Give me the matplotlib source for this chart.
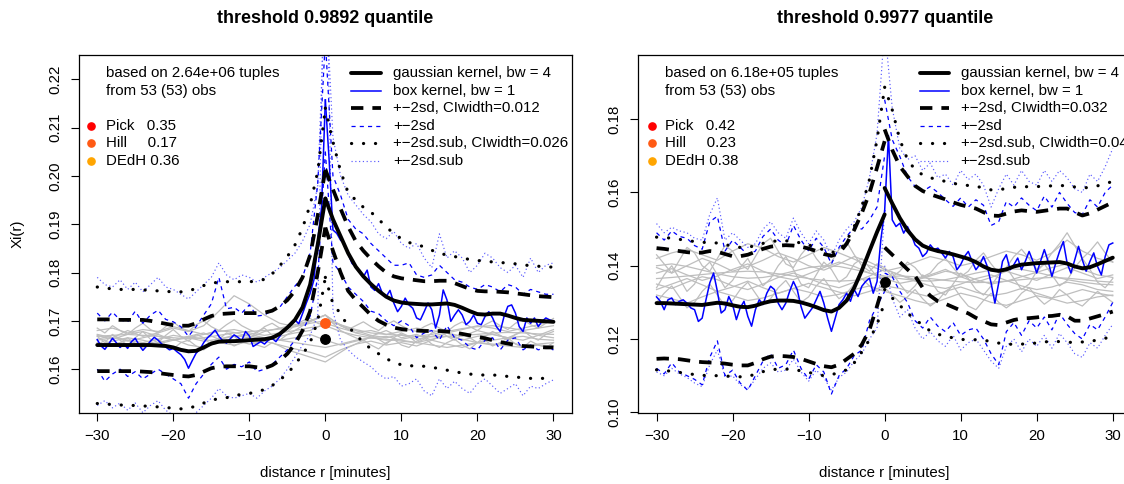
import numpy as np
import matplotlib
matplotlib.use("Agg")
import matplotlib.pyplot as plt
from matplotlib.lines import Line2D

plt.rcParams['font.family'] = ['Liberation Sans', 'DejaVu Sans']
plt.rcParams['font.size'] = 10.8
plt.rcParams['axes.unicode_minus'] = True

# ---------------- data : left panel (threshold 0.9892) ----------------
TITLE_L = "threshold 0.9892 quantile"
INFO_L = ["based on 2.64e+06 tuples", "from 53 (53) obs"]
EST_L = ["Pick   0.35", "Hill     0.17", "DEdH 0.36"]
CI_L = ["0.012", "0.026"]
YTICKS_L = [0.16, 0.17, 0.18, 0.19, 0.20, 0.21, 0.22]
YLIM_L = (0.1510, 0.2250)
POINT_BLACK_L = 0.1663
POINT_HILL_L = 0.1695

# gaussian kernel (1-min grid), negative half -30..0 and positive half 0..30
GAUSS_L_N = [0.1650, 0.1650, 0.1650, 0.1650, 0.1650, 0.1650, 0.1650, 0.1650, 0.1649, 0.1648,
             0.1645, 0.1640, 0.1637, 0.1638, 0.1645, 0.1653, 0.1657, 0.1658, 0.1658, 0.1659,
             0.1660, 0.1661, 0.1662, 0.1665, 0.1673, 0.1686, 0.1702, 0.1728, 0.1775, 0.1858,
             0.1953]
GAUSS_L_P = [0.1953,
             0.1910, 0.1875, 0.1840, 0.1812, 0.1792, 0.1776, 0.1762, 0.1750, 0.1742, 0.1738,
             0.1736, 0.1735, 0.1734, 0.1734, 0.1735, 0.1736, 0.1733, 0.1727, 0.1720, 0.1714,
             0.1713, 0.1715, 0.1715, 0.1711, 0.1706, 0.1702, 0.1701, 0.1700, 0.1699, 0.1698]
DASH_L_U_N = [0.1703, 0.1703, 0.1703, 0.1702, 0.1702, 0.1702, 0.1702, 0.1700, 0.1697, 0.1694,
              0.1691, 0.1690, 0.1690, 0.1695, 0.1703, 0.1710, 0.1714, 0.1715, 0.1716, 0.1716,
              0.1716, 0.1716, 0.1717, 0.1721, 0.1730, 0.1743, 0.1762, 0.1790, 0.1836, 0.1918,
              0.2013]
DASH_L_L_N = [0.1596, 0.1596, 0.1596, 0.1596, 0.1596, 0.1596, 0.1595, 0.1594, 0.1592, 0.1590,
              0.1588, 0.1586, 0.1585, 0.1588, 0.1595, 0.1602, 0.1605, 0.1606, 0.1606, 0.1606,
              0.1606, 0.1604, 0.1602, 0.1608, 0.1618, 0.1632, 0.1652, 0.1680, 0.1720, 0.1800,
              0.1893]
DASH_L_U_P = [0.2013,
              0.1972, 0.1932, 0.1895, 0.1865, 0.1845, 0.1828, 0.1813, 0.1800, 0.1792, 0.1788,
              0.1786, 0.1784, 0.1782, 0.1782, 0.1783, 0.1783, 0.1778, 0.1772, 0.1766, 0.1762,
              0.1761, 0.1761, 0.1760, 0.1759, 0.1757, 0.1755, 0.1753, 0.1751, 0.1750, 0.1749]
DASH_L_L_P = [0.1893,
              0.1845, 0.1800, 0.1762, 0.1743, 0.1728, 0.1712, 0.1700, 0.1692, 0.1686, 0.1683,
              0.1681, 0.1680, 0.1679, 0.1679, 0.1679, 0.1678, 0.1676, 0.1673, 0.1670, 0.1667,
              0.1664, 0.1660, 0.1656, 0.1653, 0.1650, 0.1648, 0.1647, 0.1646, 0.1645, 0.1645]
DOT_L_U_N = [0.1770, 0.1768, 0.1766, 0.1765, 0.1765, 0.1765, 0.1764, 0.1763, 0.1762, 0.1761,
             0.1760, 0.1760, 0.1762, 0.1767, 0.1773, 0.1778, 0.1780, 0.1781, 0.1781, 0.1781,
             0.1781, 0.1782, 0.1786, 0.1797, 0.1814, 0.1833, 0.1857, 0.1892, 0.1940, 0.2009,
             0.2140]
DOT_L_L_N = [0.1529, 0.1528, 0.1527, 0.1526, 0.1525, 0.1525, 0.1524, 0.1523, 0.1522, 0.1521,
             0.1519, 0.1518, 0.1519, 0.1524, 0.1530, 0.1536, 0.1539, 0.1541, 0.1545, 0.1548,
             0.1550, 0.1553, 0.1558, 0.1566, 0.1578, 0.1590, 0.1610, 0.1630, 0.1655, 0.1700,
             0.1790]
DOT_L_U_P = [0.2140,
             0.2070, 0.2010, 0.1965, 0.1950, 0.1935, 0.1925, 0.1910, 0.1895, 0.1880, 0.1870,
             0.1862, 0.1858, 0.1853, 0.1846, 0.1840, 0.1836, 0.1833, 0.1830, 0.1827, 0.1825,
             0.1823, 0.1822, 0.1821, 0.1819, 0.1818, 0.1816, 0.1814, 0.1813, 0.1812, 0.1811]
DOT_L_L_P = [0.1790,
             0.1735, 0.1715, 0.1688, 0.1672, 0.1655, 0.1642, 0.1632, 0.1622, 0.1614, 0.1609,
             0.1607, 0.1607, 0.1606, 0.1604, 0.1601, 0.1598, 0.1595, 0.1592, 0.1590, 0.1588,
             0.1588, 0.1588, 0.1587, 0.1585, 0.1584, 0.1582, 0.1581, 0.1581, 0.1581, 0.1581]
# box kernel (0.5-min grid)
BOX_L_N = [0.1661, 0.1648, 0.1641, 0.1652, 0.1664, 0.1655, 0.1645, 0.1652, 0.1643, 0.1657,
           0.1664, 0.1650, 0.1639, 0.1648, 0.1658, 0.1666, 0.1660, 0.1652, 0.1646, 0.1640,
           0.1643, 0.1636, 0.1630, 0.1620, 0.1602, 0.1618, 0.1633, 0.1641, 0.1655, 0.1665,
           0.1672, 0.1681, 0.1668, 0.1659, 0.1654, 0.1663, 0.1671, 0.1666, 0.1659, 0.1678,
           0.1669, 0.1647, 0.1652, 0.1657, 0.1652, 0.1660, 0.1664, 0.1657, 0.1668, 0.1680,
           0.1688, 0.1695, 0.1702, 0.1694, 0.1715, 0.1737, 0.1757, 0.1785, 0.1866, 0.1935,
           0.2157]
BOX_L_P = [0.2157,
           0.2032, 0.1888, 0.1881, 0.1867, 0.1860, 0.1839, 0.1819, 0.1812, 0.1805, 0.1791,
           0.1805, 0.1770, 0.1763, 0.1777, 0.1757, 0.1750, 0.1763, 0.1737, 0.1719, 0.1730,
           0.1747, 0.1733, 0.1726, 0.1706, 0.1702, 0.1719, 0.1737, 0.1723, 0.1685, 0.1712,
           0.1764, 0.1743, 0.1699, 0.1712, 0.1723, 0.1712, 0.1692, 0.1699, 0.1712, 0.1695,
           0.1692, 0.1709, 0.1719, 0.1706, 0.1688, 0.1678, 0.1709, 0.1730, 0.1733, 0.1716,
           0.1688, 0.1678, 0.1706, 0.1695, 0.1706, 0.1688, 0.1699, 0.1706, 0.1702, 0.1699]
BDU_L_N = [0.1716, 0.1700, 0.1718, 0.1702, 0.1698, 0.1720, 0.1695, 0.1712, 0.1722, 0.1703,
           0.1698, 0.1688, 0.1668, 0.1688, 0.1712, 0.1735, 0.1790, 0.1725, 0.1728, 0.1716,
           0.1733, 0.1710, 0.1712, 0.1722, 0.1728, 0.1750, 0.1772, 0.1790, 0.1840, 0.1985,
           0.2280]
BDL_L_N = [0.1600, 0.1575, 0.1590, 0.1600, 0.1585, 0.1595, 0.1580, 0.1590, 0.1600, 0.1590,
           0.1580, 0.1570, 0.1540, 0.1570, 0.1590, 0.1610, 0.1625, 0.1600, 0.1610, 0.1605,
           0.1615, 0.1595, 0.1600, 0.1610, 0.1625, 0.1640, 0.1660, 0.1680, 0.1710, 0.1790,
           0.2050]
BDU_L_P = [0.2280,
           0.2000, 0.1960, 0.1910, 0.1890, 0.1880, 0.1860, 0.1845, 0.1830, 0.1815, 0.1815,
           0.1820, 0.1795, 0.1790, 0.1795, 0.1815, 0.1800, 0.1785, 0.1780, 0.1770, 0.1765,
           0.1775, 0.1770, 0.1760, 0.1775, 0.1770, 0.1755, 0.1765, 0.1760, 0.1755, 0.1755]
BDL_L_P = [0.2050,
           0.1820, 0.1800, 0.1770, 0.1755, 0.1740, 0.1720, 0.1715, 0.1700, 0.1690, 0.1700,
           0.1690, 0.1665, 0.1675, 0.1680, 0.1660, 0.1690, 0.1665, 0.1660, 0.1645, 0.1640,
           0.1660, 0.1665, 0.1640, 0.1660, 0.1665, 0.1640, 0.1650, 0.1640, 0.1645, 0.1640]
BTU_L_N = [0.1790, 0.1775, 0.1770, 0.1785, 0.1765, 0.1780, 0.1760, 0.1775, 0.1790, 0.1770,
           0.1765, 0.1755, 0.1745, 0.1760, 0.1775, 0.1790, 0.1820, 0.1795, 0.1785, 0.1795,
           0.1790, 0.1780, 0.1790, 0.1800, 0.1810, 0.1825, 0.1840, 0.1865, 0.1900, 0.1980,
           0.2400]
BTL_L_N = [0.1525, 0.1535, 0.1520, 0.1530, 0.1515, 0.1530, 0.1510, 0.1525, 0.1535, 0.1515,
           0.1505, 0.1495, 0.1490, 0.1510, 0.1525, 0.1540, 0.1560, 0.1545, 0.1540, 0.1545,
           0.1550, 0.1540, 0.1555, 0.1565, 0.1580, 0.1600, 0.1625, 0.1650, 0.1670, 0.1710,
           0.2600]
BTU_L_P = [0.2400,
           0.2080, 0.2000, 0.1960, 0.1940, 0.1920, 0.1905, 0.1880, 0.1870, 0.1885, 0.1860,
           0.1850, 0.1860, 0.1830, 0.1810, 0.1880, 0.1830, 0.1845, 0.1830, 0.1800, 0.1815,
           0.1840, 0.1830, 0.1810, 0.1800, 0.1815, 0.1790, 0.1830, 0.1800, 0.1815, 0.1820]
BTL_L_P = [0.2600,
           0.1720, 0.1660, 0.1640, 0.1625, 0.1615, 0.1605, 0.1590, 0.1580, 0.1585, 0.1565,
           0.1570, 0.1580, 0.1555, 0.1545, 0.1580, 0.1560, 0.1575, 0.1560, 0.1550, 0.1570,
           0.1580, 0.1565, 0.1550, 0.1560, 0.1570, 0.1545, 0.1565, 0.1560, 0.1570, 0.1578]
# individual observation curves (evenly spaced over -30..30)
GREY_L = [
    [0.1668, 0.1670, 0.1672, 0.1670, 0.1668, 0.1665, 0.1663, 0.1665, 0.1670, 0.1675, 0.1678,
     0.1680, 0.1683, 0.1688, 0.1695, 0.1700, 0.1692, 0.1682, 0.1675, 0.1672, 0.1670, 0.1668,
     0.1667, 0.1668, 0.1670, 0.1672, 0.1675, 0.1676, 0.1675, 0.1673, 0.1672],
    [0.1672, 0.1665, 0.1680, 0.1668, 0.1675, 0.1685, 0.1678, 0.1690, 0.1720, 0.1752, 0.1735,
     0.1712, 0.1695, 0.1688, 0.1700, 0.1712, 0.1690, 0.1675, 0.1668, 0.1680, 0.1665, 0.1672,
     0.1660, 0.1675, 0.1668, 0.1680, 0.1672, 0.1665, 0.1678, 0.1670, 0.1682],
    [0.1655, 0.1650, 0.1660, 0.1648, 0.1655, 0.1662, 0.1650, 0.1645, 0.1655, 0.1660, 0.1652,
     0.1658, 0.1650, 0.1642, 0.1635, 0.1625, 0.1640, 0.1652, 0.1658, 0.1650, 0.1655, 0.1648,
     0.1660, 0.1652, 0.1645, 0.1655, 0.1650, 0.1658, 0.1648, 0.1652, 0.1655],
    [0.1662, 0.1670, 0.1658, 0.1665, 0.1672, 0.1660, 0.1668, 0.1675, 0.1662, 0.1670, 0.1665,
     0.1678, 0.1685, 0.1692, 0.1700, 0.1712, 0.1690, 0.1680, 0.1670, 0.1665, 0.1672, 0.1662,
     0.1668, 0.1675, 0.1660, 0.1668, 0.1672, 0.1665, 0.1660, 0.1670, 0.1665],
    [0.1680, 0.1685, 0.1675, 0.1682, 0.1678, 0.1688, 0.1680, 0.1672, 0.1678, 0.1682, 0.1675,
     0.1670, 0.1675, 0.1680, 0.1686, 0.1690, 0.1678, 0.1670, 0.1665, 0.1660, 0.1662, 0.1668,
     0.1672, 0.1678, 0.1684, 0.1688, 0.1690, 0.1686, 0.1680, 0.1685, 0.1690],
    [0.1650, 0.1658, 0.1665, 0.1660, 0.1652, 0.1660, 0.1668, 0.1662, 0.1655, 0.1650, 0.1658,
     0.1665, 0.1660, 0.1655, 0.1650, 0.1645, 0.1652, 0.1660, 0.1665, 0.1662, 0.1658, 0.1655,
     0.1650, 0.1645, 0.1650, 0.1655, 0.1652, 0.1648, 0.1645, 0.1650, 0.1648],
    [0.1670, 0.1662, 0.1672, 0.1678, 0.1668, 0.1660, 0.1665, 0.1672, 0.1680, 0.1676, 0.1668,
     0.1662, 0.1668, 0.1675, 0.1680, 0.1695, 0.1685, 0.1676, 0.1680, 0.1672, 0.1678, 0.1685,
     0.1680, 0.1675, 0.1682, 0.1690, 0.1685, 0.1678, 0.1685, 0.1692, 0.1700],
    [0.1660, 0.1665, 0.1660, 0.1655, 0.1662, 0.1670, 0.1665, 0.1658, 0.1662, 0.1668, 0.1672,
     0.1665, 0.1660, 0.1665, 0.1672, 0.1660, 0.1650, 0.1658, 0.1665, 0.1668, 0.1660, 0.1655,
     0.1662, 0.1668, 0.1662, 0.1655, 0.1660, 0.1665, 0.1668, 0.1662, 0.1660],
    [0.1668, 0.1655, 0.1672, 0.1660, 0.1650, 0.1665, 0.1678, 0.1662, 0.1655, 0.1670,
     0.1682, 0.1668, 0.1658, 0.1672, 0.1665, 0.1650, 0.1662, 0.1675, 0.1668, 0.1655,
     0.1662, 0.1678, 0.1685, 0.1670, 0.1660, 0.1672, 0.1680, 0.1690, 0.1698, 0.1705,
     0.1712,
     0.1695, 0.1680, 0.1672, 0.1665, 0.1658, 0.1670, 0.1662, 0.1652, 0.1665, 0.1675,
     0.1668, 0.1655, 0.1662, 0.1675, 0.1680, 0.1668, 0.1660, 0.1672, 0.1665, 0.1655,
     0.1668, 0.1678, 0.1670, 0.1660, 0.1672, 0.1680, 0.1668, 0.1660, 0.1672, 0.1678],
    [0.1650, 0.1660, 0.1648, 0.1655, 0.1665, 0.1652, 0.1645, 0.1658, 0.1662, 0.1650,
     0.1642, 0.1655, 0.1660, 0.1648, 0.1640, 0.1652, 0.1665, 0.1658, 0.1648, 0.1655,
     0.1662, 0.1650, 0.1645, 0.1655, 0.1648, 0.1640, 0.1635, 0.1630, 0.1625, 0.1620,
     0.1615,
     0.1625, 0.1635, 0.1645, 0.1652, 0.1660, 0.1650, 0.1642, 0.1655, 0.1662, 0.1650,
     0.1645, 0.1658, 0.1665, 0.1652, 0.1645, 0.1655, 0.1662, 0.1650, 0.1642, 0.1655,
     0.1660, 0.1648, 0.1655, 0.1665, 0.1652, 0.1645, 0.1658, 0.1650, 0.1645, 0.1655],
    [0.1685, 0.1675, 0.1690, 0.1680, 0.1672, 0.1685, 0.1695, 0.1682, 0.1675, 0.1688,
     0.1698, 0.1685, 0.1678, 0.1692, 0.1700, 0.1688, 0.1680, 0.1692, 0.1702, 0.1690,
     0.1682, 0.1675, 0.1688, 0.1695, 0.1685, 0.1678, 0.1690, 0.1700, 0.1705, 0.1695,
     0.1690,
     0.1700, 0.1692, 0.1682, 0.1690, 0.1698, 0.1688, 0.1680, 0.1692, 0.1700, 0.1690,
     0.1682, 0.1678, 0.1688, 0.1695, 0.1685, 0.1678, 0.1690, 0.1698, 0.1688, 0.1680,
     0.1692, 0.1700, 0.1690, 0.1682, 0.1695, 0.1702, 0.1692, 0.1685, 0.1695, 0.1705],
]

# ---------------- data : right panel (threshold 0.9977) ----------------
TITLE_R = "threshold 0.9977 quantile"
INFO_R = ["based on 6.18e+05 tuples", "from 53 (53) obs"]
EST_R = ["Pick   0.42", "Hill     0.23", "DEdH 0.38"]
CI_R = ["0.032", "0.044"]
YTICKS_R = [0.10, 0.12, 0.14, 0.16, 0.18]
YLIM_R = (0.0999, 0.1975)
POINT_BLACK_R = 0.1355

GAUSS_R_N = [0.1298, 0.1298, 0.1297, 0.1296, 0.1295, 0.1294, 0.1293, 0.1296, 0.1299, 0.1297,
             0.1292, 0.1288, 0.1287, 0.1291, 0.1298, 0.1303, 0.1305, 0.1305, 0.1304, 0.1300,
             0.1294, 0.1287, 0.1279, 0.1275, 0.1285, 0.1305, 0.1340, 0.1387, 0.1440, 0.1492,
             0.1540]
GAUSS_R_P = [0.1612,
             0.1570, 0.1530, 0.1497, 0.1472, 0.1455, 0.1446, 0.1440, 0.1436, 0.1431, 0.1425,
             0.1419, 0.1410, 0.1398, 0.1389, 0.1386, 0.1390, 0.1398, 0.1403, 0.1405, 0.1407,
             0.1408, 0.1409, 0.1410, 0.1406, 0.1398, 0.1393, 0.1396, 0.1404, 0.1413, 0.1422]
DASH_R_U_N = [0.1448, 0.1446, 0.1443, 0.1440, 0.1437, 0.1435, 0.1436, 0.1440, 0.1438, 0.1432,
              0.1426, 0.1426, 0.1430, 0.1438, 0.1446, 0.1452, 0.1455, 0.1456, 0.1455, 0.1452,
              0.1447, 0.1440, 0.1432, 0.1427, 0.1434, 0.1460, 0.1498, 0.1544, 0.1598, 0.1668,
              0.1740]
DASH_R_L_N = [0.1146, 0.1147, 0.1146, 0.1145, 0.1142, 0.1139, 0.1137, 0.1136, 0.1135, 0.1133,
              0.1130, 0.1128, 0.1128, 0.1135, 0.1145, 0.1152, 0.1154, 0.1153, 0.1151, 0.1146,
              0.1139, 0.1132, 0.1126, 0.1123, 0.1130, 0.1145, 0.1160, 0.1185, 0.1225, 0.1290,
              0.1360]
DASH_R_U_P = [0.1772,
              0.1716, 0.1671, 0.1644, 0.1618, 0.1604, 0.1595, 0.1588, 0.1581, 0.1573, 0.1566,
              0.1561, 0.1556, 0.1546, 0.1537, 0.1536, 0.1542, 0.1548, 0.1551, 0.1549, 0.1547,
              0.1550, 0.1553, 0.1556, 0.1556, 0.1546, 0.1537, 0.1543, 0.1553, 0.1563, 0.1573]
DASH_R_L_P = [0.1450,
              0.1430, 0.1410, 0.1390, 0.1372, 0.1340, 0.1318, 0.1303, 0.1296, 0.1287, 0.1278,
              0.1270, 0.1258, 0.1249, 0.1240, 0.1238, 0.1245, 0.1252, 0.1256, 0.1257, 0.1259,
              0.1262, 0.1263, 0.1266, 0.1262, 0.1250, 0.1250, 0.1256, 0.1262, 0.1268, 0.1275]
DOT_R_U_N = [0.1478, 0.1477, 0.1475, 0.1472, 0.1469, 0.1466, 0.1464, 0.1463, 0.1462, 0.1458,
             0.1453, 0.1450, 0.1450, 0.1455, 0.1461, 0.1466, 0.1468, 0.1468, 0.1466, 0.1462,
             0.1457, 0.1450, 0.1443, 0.1436, 0.1440, 0.1468, 0.1507, 0.1562, 0.1635, 0.1744,
             0.1887]
DOT_R_L_N = [0.1116, 0.1114, 0.1112, 0.1109, 0.1106, 0.1103, 0.1101, 0.1100, 0.1100, 0.1099,
             0.1098, 0.1097, 0.1098, 0.1104, 0.1111, 0.1116, 0.1118, 0.1118, 0.1117, 0.1113,
             0.1109, 0.1104, 0.1100, 0.1103, 0.1108, 0.1116, 0.1135, 0.1165, 0.1198, 0.1240,
             0.1300]
DOT_R_U_P = [0.1887,
             0.1825, 0.1744, 0.1690, 0.1662, 0.1648, 0.1640, 0.1635, 0.1630, 0.1625, 0.1621,
             0.1619, 0.1617, 0.1612, 0.1607, 0.1607, 0.1611, 0.1614, 0.1615, 0.1616, 0.1616,
             0.1617, 0.1618, 0.1619, 0.1618, 0.1615, 0.1612, 0.1614, 0.1618, 0.1624, 0.1630]
DOT_R_L_P = [0.1335,
             0.1312, 0.1292, 0.1270, 0.1255, 0.1237, 0.1222, 0.1213, 0.1208, 0.1203, 0.1199,
             0.1198, 0.1198, 0.1197, 0.1193, 0.1189, 0.1187, 0.1185, 0.1186, 0.1188, 0.1189,
             0.1192, 0.1194, 0.1193, 0.1191, 0.1191, 0.1192, 0.1194, 0.1197, 0.1202, 0.1207]
BOX_R_N = [0.1315, 0.1303, 0.1280, 0.1307, 0.1312, 0.1294, 0.1303, 0.1307, 0.1298, 0.1285,
           0.1280, 0.1248, 0.1257, 0.1307, 0.1353, 0.1380, 0.1330, 0.1271, 0.1280, 0.1316,
           0.1294, 0.1253, 0.1285, 0.1303, 0.1262, 0.1235, 0.1280, 0.1307, 0.1294, 0.1325,
           0.1344, 0.1335, 0.1298, 0.1280, 0.1298, 0.1330, 0.1357, 0.1335, 0.1289, 0.1257,
           0.1271, 0.1285, 0.1307, 0.1330, 0.1298, 0.1257, 0.1221, 0.1257, 0.1294, 0.1307,
           0.1325, 0.1303, 0.1335, 0.1316, 0.1344, 0.1357, 0.1366, 0.1325, 0.1357, 0.1471,
           0.1550]
BOX_R_P = [0.1550,
           0.1755, 0.1525, 0.1507, 0.1516, 0.1489, 0.1507, 0.1485, 0.1457, 0.1448, 0.1425,
           0.1435, 0.1457, 0.1444, 0.1448, 0.1435, 0.1421, 0.1439, 0.1425, 0.1389, 0.1403,
           0.1425, 0.1439, 0.1412, 0.1389, 0.1403, 0.1425, 0.1398, 0.1353, 0.1298, 0.1353,
           0.1412, 0.1430, 0.1389, 0.1403, 0.1421, 0.1389, 0.1412, 0.1439, 0.1412, 0.1380,
           0.1412, 0.1444, 0.1412, 0.1371, 0.1407, 0.1439, 0.1466, 0.1407, 0.1380, 0.1416,
           0.1453, 0.1416, 0.1385, 0.1412, 0.1435, 0.1398, 0.1375, 0.1425, 0.1457, 0.1462]
BDU_R_N = [0.1490, 0.1470, 0.1495, 0.1480, 0.1475, 0.1455, 0.1445, 0.1520, 0.1535, 0.1440,
           0.1470, 0.1450, 0.1430, 0.1440, 0.1480, 0.1500, 0.1470, 0.1455, 0.1510, 0.1470,
           0.1440, 0.1475, 0.1450, 0.1405, 0.1450, 0.1480, 0.1505, 0.1500, 0.1525, 0.1560,
           0.1700]
BDL_R_N = [0.1120, 0.1105, 0.1135, 0.1110, 0.1100, 0.1090, 0.1075, 0.1150, 0.1195, 0.1100,
           0.1115, 0.1080, 0.1060, 0.1100, 0.1140, 0.1160, 0.1120, 0.1130, 0.1170, 0.1120,
           0.1090, 0.1130, 0.1110, 0.1050, 0.1100, 0.1120, 0.1155, 0.1170, 0.1250, 0.1290,
           0.1330]
BDU_R_P = [0.1853,
           0.1744, 0.1698, 0.1644, 0.1616, 0.1603, 0.1616, 0.1600, 0.1580, 0.1562, 0.1585,
           0.1560, 0.1580, 0.1565, 0.1510, 0.1520, 0.1575, 0.1560, 0.1585, 0.1565, 0.1550,
           0.1590, 0.1560, 0.1600, 0.1570, 0.1545, 0.1540, 0.1580, 0.1560, 0.1600, 0.1620]
BDL_R_P = [0.1380,
           0.1370, 0.1330, 0.1300, 0.1250, 0.1230, 0.1260, 0.1235, 0.1220, 0.1245, 0.1210,
           0.1225, 0.1230, 0.1200, 0.1160, 0.1130, 0.1220, 0.1245, 0.1210, 0.1250, 0.1230,
           0.1260, 0.1225, 0.1270, 0.1240, 0.1215, 0.1200, 0.1240, 0.1225, 0.1260, 0.1300]
BTU_R_N = [0.1515, 0.1490, 0.1505, 0.1495, 0.1490, 0.1475, 0.1470, 0.1540, 0.1585, 0.1470,
           0.1490, 0.1470, 0.1450, 0.1460, 0.1500, 0.1520, 0.1490, 0.1475, 0.1530, 0.1490,
           0.1460, 0.1495, 0.1470, 0.1425, 0.1470, 0.1500, 0.1520, 0.1560, 0.1640, 0.1760,
           0.2050]
BTL_R_N = [0.1110, 0.1100, 0.1120, 0.1105, 0.1095, 0.1080, 0.1070, 0.1130, 0.1170, 0.1095,
           0.1100, 0.1075, 0.1065, 0.1090, 0.1120, 0.1135, 0.1110, 0.1115, 0.1145, 0.1110,
           0.1085, 0.1115, 0.1095, 0.1060, 0.1095, 0.1110, 0.1140, 0.1160, 0.1200, 0.1230,
           0.1550]
BTU_R_P = [0.2050,
           0.1830, 0.1720, 0.1690, 0.1700, 0.1660, 0.1680, 0.1640, 0.1650, 0.1620, 0.1660,
           0.1635, 0.1650, 0.1620, 0.1560, 0.1610, 0.1650, 0.1620, 0.1660, 0.1630, 0.1620,
           0.1660, 0.1630, 0.1660, 0.1640, 0.1610, 0.1600, 0.1650, 0.1630, 0.1670, 0.1720]
BTL_R_P = [0.1400,
           0.1310, 0.1260, 0.1280, 0.1230, 0.1200, 0.1220, 0.1195, 0.1180, 0.1210, 0.1170,
           0.1190, 0.1200, 0.1170, 0.1140, 0.1120, 0.1180, 0.1200, 0.1165, 0.1200, 0.1180,
           0.1210, 0.1175, 0.1215, 0.1190, 0.1160, 0.1150, 0.1190, 0.1175, 0.1210, 0.1240]
GREY_R = [
    [0.1380, 0.1392, 0.1375, 0.1360, 0.1372, 0.1390, 0.1405, 0.1385, 0.1370, 0.1362, 0.1378,
     0.1395, 0.1410, 0.1398, 0.1380, 0.1365, 0.1352, 0.1360, 0.1372, 0.1385, 0.1378, 0.1362,
     0.1350, 0.1358, 0.1370, 0.1382, 0.1395, 0.1405, 0.1390, 0.1375, 0.1368],
    [0.1350, 0.1338, 0.1355, 0.1370, 0.1362, 0.1345, 0.1335, 0.1350, 0.1368, 0.1380, 0.1365,
     0.1350, 0.1340, 0.1355, 0.1372, 0.1390, 0.1375, 0.1358, 0.1345, 0.1338, 0.1350, 0.1365,
     0.1375, 0.1360, 0.1345, 0.1335, 0.1342, 0.1355, 0.1348, 0.1335, 0.1330],
    [0.1420, 0.1435, 0.1445, 0.1430, 0.1415, 0.1440, 0.1460, 0.1448, 0.1425, 0.1410, 0.1430,
     0.1450, 0.1435, 0.1418, 0.1400, 0.1385, 0.1395, 0.1410, 0.1425, 0.1415, 0.1400, 0.1410,
     0.1425, 0.1440, 0.1430, 0.1415, 0.1435, 0.1470, 0.1440, 0.1420, 0.1410],
    [0.1320, 0.1310, 0.1298, 0.1315, 0.1330, 0.1318, 0.1305, 0.1312, 0.1325, 0.1338, 0.1328,
     0.1315, 0.1322, 0.1335, 0.1345, 0.1330, 0.1318, 0.1305, 0.1295, 0.1310, 0.1325, 0.1315,
     0.1300, 0.1292, 0.1305, 0.1318, 0.1310, 0.1298, 0.1305, 0.1315, 0.1320],
    [0.1365, 0.1368, 0.1372, 0.1376, 0.1380, 0.1383, 0.1385, 0.1383, 0.1378, 0.1372, 0.1365,
     0.1360, 0.1358, 0.1360, 0.1365, 0.1370, 0.1372, 0.1370, 0.1365, 0.1360, 0.1356, 0.1354,
     0.1355, 0.1358, 0.1362, 0.1366, 0.1368, 0.1366, 0.1362, 0.1358, 0.1355],
    [0.1395, 0.1380, 0.1400, 0.1420, 0.1405, 0.1385, 0.1398, 0.1415, 0.1435, 0.1420, 0.1400,
     0.1388, 0.1405, 0.1425, 0.1410, 0.1390, 0.1375, 0.1362, 0.1375, 0.1390, 0.1370, 0.1355,
     0.1368, 0.1385, 0.1372, 0.1360, 0.1378, 0.1395, 0.1380, 0.1365, 0.1375],
    [0.1335, 0.1350, 0.1365, 0.1348, 0.1330, 0.1342, 0.1358, 0.1340, 0.1325, 0.1338, 0.1352,
     0.1340, 0.1328, 0.1318, 0.1330, 0.1345, 0.1338, 0.1325, 0.1315, 0.1330, 0.1342, 0.1328,
     0.1318, 0.1325, 0.1338, 0.1325, 0.1312, 0.1322, 0.1335, 0.1325, 0.1318],
    [0.1400, 0.1405, 0.1398, 0.1388, 0.1378, 0.1370, 0.1366, 0.1368, 0.1375, 0.1385, 0.1395,
     0.1400, 0.1398, 0.1390, 0.1380, 0.1372, 0.1365, 0.1360, 0.1358, 0.1362, 0.1370, 0.1380,
     0.1388, 0.1392, 0.1390, 0.1382, 0.1372, 0.1362, 0.1355, 0.1350, 0.1348],
    [0.1340, 0.1375, 0.1400, 0.1365, 0.1330, 0.1350, 0.1390, 0.1410, 0.1375, 0.1340,
     0.1360, 0.1395, 0.1420, 0.1380, 0.1345, 0.1365, 0.1400, 0.1425, 0.1390, 0.1350,
     0.1340, 0.1375, 0.1410, 0.1390, 0.1355, 0.1370, 0.1405, 0.1420, 0.1395, 0.1370,
     0.1360,
     0.1380, 0.1350, 0.1325, 0.1345, 0.1375, 0.1360, 0.1330, 0.1320, 0.1350, 0.1380,
     0.1365, 0.1335, 0.1320, 0.1345, 0.1375, 0.1395, 0.1365, 0.1335, 0.1350, 0.1385,
     0.1405, 0.1375, 0.1345, 0.1360, 0.1395, 0.1420, 0.1390, 0.1355, 0.1340, 0.1365],
    [0.1430, 0.1405, 0.1380, 0.1415, 0.1450, 0.1435, 0.1400, 0.1385, 0.1420, 0.1455,
     0.1440, 0.1405, 0.1390, 0.1425, 0.1460, 0.1475, 0.1440, 0.1405, 0.1395, 0.1430,
     0.1455, 0.1420, 0.1395, 0.1410, 0.1445, 0.1465, 0.1430, 0.1400, 0.1385, 0.1405,
     0.1395,
     0.1370, 0.1385, 0.1410, 0.1395, 0.1370, 0.1380, 0.1405, 0.1420, 0.1395, 0.1370,
     0.1385, 0.1415, 0.1435, 0.1405, 0.1380, 0.1395, 0.1425, 0.1445, 0.1420, 0.1390,
     0.1405, 0.1435, 0.1460, 0.1490, 0.1455, 0.1420, 0.1440, 0.1465, 0.1435, 0.1410],
    [0.1300, 0.1325, 0.1345, 0.1315, 0.1285, 0.1300, 0.1330, 0.1350, 0.1320, 0.1290,
     0.1305, 0.1335, 0.1355, 0.1325, 0.1295, 0.1310, 0.1340, 0.1360, 0.1330, 0.1300,
     0.1315, 0.1345, 0.1365, 0.1335, 0.1310, 0.1325, 0.1350, 0.1365, 0.1345, 0.1330,
     0.1340,
     0.1320, 0.1300, 0.1315, 0.1335, 0.1310, 0.1290, 0.1305, 0.1330, 0.1345, 0.1315,
     0.1290, 0.1280, 0.1305, 0.1325, 0.1300, 0.1285, 0.1300, 0.1325, 0.1340, 0.1315,
     0.1295, 0.1310, 0.1335, 0.1320, 0.1300, 0.1290, 0.1310, 0.1330, 0.1315, 0.1300],
]

XTICKS = [-30, -20, -10, 0, 10, 20, 30]
XLIM = (-32.4, 32.4)
EST_COLORS = ["#FF0000", "#FF5A14", "#FFA500"]

# ---------------- styles ----------------
BLUE = "#0000FF"
LBLUE = "#5A5AFF"
GREY = "#BEBEBE"
ST_GAUSS = dict(color="black", lw=2.8, solid_capstyle="round", solid_joinstyle="round")
ST_BOX = dict(color=BLUE, lw=1.1, solid_joinstyle="round")
ST_DASH = dict(color="black", lw=2.7, linestyle=(0, (3.3, 2.4)), dash_capstyle="butt")
ST_BDASH = dict(color=BLUE, lw=0.9, linestyle=(0, (3.3, 3.3)))
ST_DOT = dict(color="black", lw=2.3, linestyle=(0, (0.05, 3.7)), dash_capstyle="round")
ST_BDOT = dict(color=LBLUE, lw=0.85, linestyle=(0, (1.0, 2.2)))
ST_GREY = dict(color=GREY, lw=0.9)


def half(ax, ys, neg, **kw):
    x0, x1 = (-30, 0) if neg else (0, 30)
    ax.plot(np.linspace(x0, x1, len(ys)), ys, **kw)


def panel(ax, d):
    for g in d["grey"]:
        ax.plot(np.linspace(-30, 30, len(g)), g, **ST_GREY)
    for key in ("btu", "btl"):
        half(ax, d[key][0], True, **ST_BDOT)
        half(ax, d[key][1], False, **ST_BDOT)
    for key in ("bdu", "bdl"):
        half(ax, d[key][0], True, **ST_BDASH)
        half(ax, d[key][1], False, **ST_BDASH)
    half(ax, d["box"][0], True, **ST_BOX)
    half(ax, d["box"][1], False, **ST_BOX)
    for key in ("dotu", "dotl"):
        half(ax, d[key][0], True, **ST_DOT)
        half(ax, d[key][1], False, **ST_DOT)
    for key in ("dashu", "dashl"):
        half(ax, d[key][0], True, **ST_DASH)
        half(ax, d[key][1], False, **ST_DASH)
    half(ax, d["gauss"][0], True, **ST_GAUSS)
    half(ax, d["gauss"][1], False, **ST_GAUSS)
    for val, col in d["points"]:
        ax.plot([0], [val], "o", color=col, ms=6.8, mec=col, zorder=10)

    ax.set_xlim(*XLIM)
    ax.set_ylim(*d["ylim"])
    ax.set_xticks(XTICKS)
    ax.set_xticklabels([f"{t:d}".replace("-", "\u2212") for t in XTICKS])
    ax.set_yticks(d["yticks"])
    ax.set_yticklabels([f"{t:.2f}" for t in d["yticks"]], rotation=90, va="center")
    ax.tick_params(direction="out", length=5.5, width=0.8, labelsize=10.8)
    ax.tick_params(axis="x", pad=6.5)
    ax.tick_params(axis="y", pad=6.5)
    for s in ax.spines.values():
        s.set_linewidth(0.9)

    # text block (top-left)
    tx, dx = d["tx"], d["dx"]
    rows = [1 - (73.3 + 17.5 * i - 55) / 357.7 for i in range(6)]
    ax.text(tx, rows[0], d["info"][0], transform=ax.transAxes, va="center", ha="left")
    ax.text(tx, rows[1], d["info"][1], transform=ax.transAxes, va="center", ha="left")
    for i, (lab, col) in enumerate(zip(d["est"], EST_COLORS)):
        ax.plot([dx], [rows[3 + i]], "o", color=col, ms=5.2, transform=ax.transAxes,
                clip_on=False)
        ax.text(tx, rows[3 + i], lab, transform=ax.transAxes, va="center", ha="left")

    # legend (top-right)
    lx0, lx1, ltx = d["leg"]
    entries = [(ST_GAUSS, "gaussian kernel, bw = 4"),
               (ST_BOX, "box kernel, bw = 1"),
               (ST_DASH, "+\u22122sd, CIwidth=" + d["ci"][0]),
               (ST_BDASH, "+\u22122sd"),
               (ST_DOT, "+\u22122sd.sub, CIwidth=" + d["ci"][1]),
               (ST_BDOT, "+\u22122sd.sub")]
    for i, (st, lab) in enumerate(entries):
        ax.add_line(Line2D([lx0, lx1], [rows[i], rows[i]], transform=ax.transAxes, **st))
        ax.text(ltx, rows[i], lab, transform=ax.transAxes, va="center", ha="left")


fig = plt.figure(figsize=(11.24, 4.84), dpi=100)
W, H = 1124.0, 484.0
axL = fig.add_axes([79 / W, (H - 412.7) / H, 492.7 / W, 357.7 / H])
axR = fig.add_axes([638.3 / W, (H - 412.7) / H, 492.7 / W, 357.7 / H])

left = dict(grey=GREY_L, gauss=(GAUSS_L_N, GAUSS_L_P), box=(BOX_L_N, BOX_L_P),
            dashu=(DASH_L_U_N, DASH_L_U_P), dashl=(DASH_L_L_N, DASH_L_L_P),
            dotu=(DOT_L_U_N, DOT_L_U_P), dotl=(DOT_L_L_N, DOT_L_L_P),
            bdu=(BDU_L_N, BDU_L_P), bdl=(BDL_L_N, BDL_L_P),
            btu=(BTU_L_N, BTU_L_P), btl=(BTL_L_N, BTL_L_P),
            points=[(POINT_HILL_L, EST_COLORS[1]), (POINT_BLACK_L, "black")],
            ylim=YLIM_L, yticks=YTICKS_L, info=INFO_L, est=EST_L, ci=CI_L,
            tx=0.0548, dx=0.0237, leg=(0.552, 0.613, 0.637))
right = dict(grey=GREY_R, gauss=(GAUSS_R_N, GAUSS_R_P), box=(BOX_R_N, BOX_R_P),
             dashu=(DASH_R_U_N, DASH_R_U_P), dashl=(DASH_R_L_N, DASH_R_L_P),
             dotu=(DOT_R_U_N, DOT_R_U_P), dotl=(DOT_R_L_N, DOT_R_L_P),
             bdu=(BDU_R_N, BDU_R_P), bdl=(BDL_R_N, BDL_R_P),
             btu=(BTU_R_N, BTU_R_P), btl=(BTL_R_N, BTL_R_P),
             points=[(POINT_BLACK_R, "black")],
             ylim=YLIM_R, yticks=YTICKS_R, info=INFO_R, est=EST_R, ci=CI_R,
             tx=0.055, dx=0.0278, leg=(0.571, 0.630, 0.654))
panel(axL, left)
panel(axR, right)

# titles and axis labels
for cx, title in ((325.35, TITLE_L), (884.65, TITLE_R)):
    fig.text(cx / W, 1 - 18.5 / H, title, ha="center", va="center",
             fontsize=13, fontweight="bold")
    fig.text(cx / W, 1 - 473 / H, "distance r [minutes]", ha="center", va="center",
             fontsize=10.8)
fig.text(18 / W, 1 - 234 / H, "Xi(r)", rotation=90, ha="center", va="center", fontsize=10.8)

fig.savefig("out.png", dpi=100)
